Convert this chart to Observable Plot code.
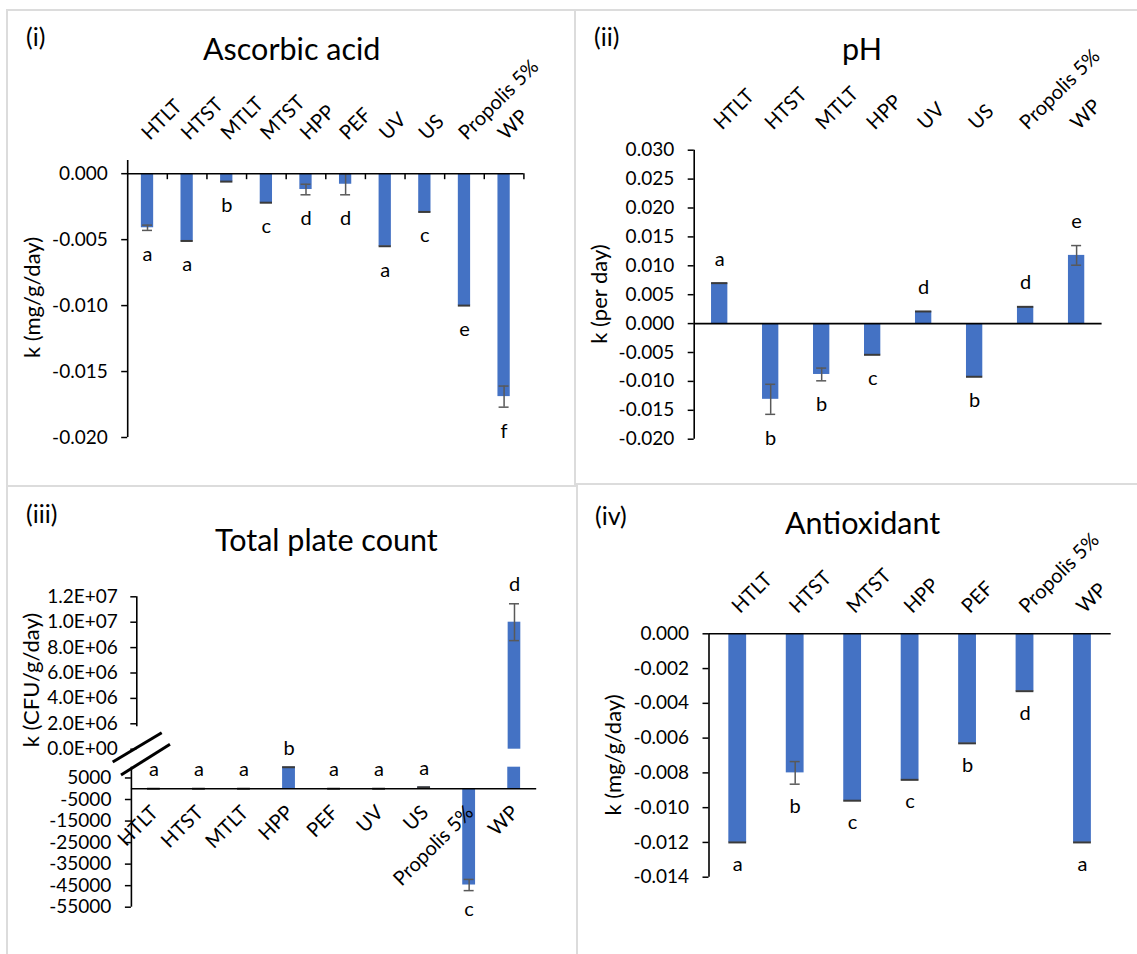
<!DOCTYPE html>
<html>
<head>
<meta charset="utf-8">
<script src="https://cdn.jsdelivr.net/npm/d3@7"></script>
<script src="https://cdn.jsdelivr.net/npm/@observablehq/plot@0.6"></script>
<style>
  body { margin: 0; background: #fff; }
  #root { position: relative; width: 1137px; height: 954px; overflow: hidden; font-family: Lato, sans-serif; color: #000; background: #fff; }
  .panel { position: absolute; border: 2px solid #dcdcdc; box-sizing: border-box; }
</style>
</head>
<body>
<div id="root"></div>
<script>
// ---------- DATA ----------
// (i) Ascorbic acid
const ascCats = ["HTLT", "HTST", "MTLT", "MTST", "HPP", "PEF", "UV", "US", "Propolis 5%", "WP"];
const ascK = [-0.0041, -0.0051, -0.0006, -0.0022, -0.0012, -0.0008, -0.0055, -0.0029, -0.0100, -0.0169];
const ascErr = [0.0002, 0, 0, 0, 0.0004, 0.0008, 0, 0, 0, 0.0008];
const ascLetters = ["a", "a", "b", "c", "d", "d", "a", "c", "e", "f"];
const ascTicks = [0, -0.005, -0.010, -0.015, -0.020];

// (ii) pH
const phCats = ["HTLT", "HTST", "MTLT", "HPP", "UV", "US", "Propolis 5%", "WP"];
const phK = [0.0070, -0.0131, -0.0088, -0.0054, 0.0021, -0.0092, 0.0029, 0.0118];
const phErr = [0, 0.0026, 0.0011, 0, 0, 0, 0, 0.0017];
const phLetters = ["a", "b", "b", "c", "d", "b", "d", "e"];
const phTicks = [0.030, 0.025, 0.020, 0.015, 0.010, 0.005, 0, -0.005, -0.010, -0.015, -0.020];

// (iii) Total plate count (broken axis)
const tpcCats = ["HTLT", "HTST", "MTLT", "HPP", "PEF", "UV", "US", "Propolis 5%", "WP"];
const tpcK = [0, 0, 0, 50000, 0, 0, 700, -44700, 10000000];
const tpcErr = [0, 0, 0, 0, 0, 0, 0, 2600, 1450000];
const tpcLetters = ["a", "a", "a", "b", "a", "a", "a", "c", "d"];
const tpcUpperTicks = [12e6, 10e6, 8e6, 6e6, 4e6, 2e6, 0];
const tpcLowerTicks = [5000, -5000, -15000, -25000, -35000, -45000, -55000];
const tpcUpperDomain = [0, 12e6];
const tpcLowerDomain = [-55000, 10000];
const tpcBreak = 1e6;

// (iv) Antioxidant
const aoxCats = ["HTLT", "HTST", "MTST", "HPP", "PEF", "Propolis 5%", "WP"];
const aoxK = [-0.0120, -0.0080, -0.0096, -0.0084, -0.0063, -0.0033, -0.0120];
const aoxErr = [0, 0.00065, 0, 0, 0, 0, 0];
const aoxLetters = ["a", "b", "c", "c", "b", "d", "a"];
const aoxTicks = [0, -0.002, -0.004, -0.006, -0.008, -0.010, -0.012, -0.014];

// ---------- HELPERS ----------
const BLUE = "#4472C4", ERR = "#595959", CAPZ = "#3a3a3a";
const FONT = "Lato, 'Open Sans', sans-serif";
const LBL = 20;   // category / letter font size
const root = document.getElementById("root");

function toRows(cats, k, err, letters) {
  return cats.map((c, i) => ({cat: c, k: k[i], err: err[i], letter: letters[i]}));
}
const fmt3 = d => d.toFixed(3);
const fmtE = d => {
  const [m, e] = d.toExponential(1).split("e");
  const n = +e;
  return m + "E" + (n < 0 ? "-" : "+") + String(Math.abs(n)).padStart(2, "0");
};
const baseStyle = {fontFamily: FONT, fontSize: "19px", color: "#000", background: "transparent", overflow: "visible"};

function mount(svg, left, top) {
  svg.style.position = "absolute";
  svg.style.left = left + "px";
  svg.style.top = top + "px";
  root.appendChild(svg);
}
function xScale(cats, barFrac) {
  const pi = 1 - barFrac;
  return {domain: cats, paddingInner: pi, paddingOuter: pi / 2, align: 0.5, round: false, axis: null};
}
function errMarks(rows, capInset) {
  const withErr = rows.filter(d => d.err > 0);
  const noErr = rows.filter(d => d.err === 0);
  return [
    Plot.ruleX(withErr, {x: "cat", y1: d => d.k - d.err, y2: d => d.k + d.err, stroke: ERR, strokeWidth: 1.5}),
    Plot.tickY(withErr, {x: "cat", y: d => d.k - d.err, stroke: ERR, strokeWidth: 1.5, insetLeft: capInset, insetRight: capInset}),
    Plot.tickY(withErr, {x: "cat", y: d => d.k + d.err, stroke: ERR, strokeWidth: 1.5, insetLeft: capInset, insetRight: capInset}),
    Plot.tickY(noErr, {x: "cat", y: "k", stroke: CAPZ, strokeWidth: 2})
  ];
}

function kPanel(o) {
  const rows = toRows(o.cats, o.k, o.err, o.letters);
  const n = o.cats.length;
  const step = (o.width - o.ml - o.mr) / n;
  const capInset = Math.max(0, (step * o.barFrac - 10) / 2);
  const up = rows.filter(d => d.k >= 0), down = rows.filter(d => d.k < 0);
  const marks = [
    Plot.barY(rows, {x: "cat", y: "k", fill: BLUE}),
    ...errMarks(rows, capInset),
    Plot.ruleY([0], {stroke: "#000", strokeWidth: 1.6}),
    Plot.ruleX([o.cats[0]], {x: d => d, dx: -step / 2, stroke: "#000", strokeWidth: 1.6}),
    Plot.axisY({ticks: o.ticks, tickFormat: o.fmt, tickSize: 6, tickPadding: 14, label: null, strokeWidth: 1.5, fontSize: 19}),
    Plot.text(up, {x: "cat", y: d => d.k + d.err, text: "letter", dy: -o.letterGap, fontSize: LBL}),
    Plot.text(down, {x: "cat", y: d => d.k - d.err, text: "letter", dy: o.letterGap, fontSize: LBL}),
    Plot.text(o.cats, {x: d => d, text: d => d, frameAnchor: "top", rotate: -45, textAnchor: "start", lineAnchor: "bottom", dx: 2.2, dy: -19.5, fontSize: LBL})
  ];
  if (o.boundaryTicks) {
    marks.push(Plot.ruleX(o.cats, {x: d => d, y1: () => 0, y2: () => 0, insetBottom: -6, dx: step / 2, stroke: "#000", strokeWidth: 1.5}));
  }
  return Plot.plot({
    width: o.width, height: o.height,
    marginLeft: o.ml, marginRight: o.mr, marginTop: o.mt, marginBottom: o.mb,
    style: baseStyle,
    x: xScale(o.cats, o.barFrac),
    y: {domain: o.yDomain},
    marks
  });
}

// ---------- PANEL FRAMES ----------
[[6, 9, 570, 478], [574, 9, 570, 476], [6, 485, 572, 480], [576, 483, 570, 480]].forEach(([l, t, w, h]) => {
  const d = document.createElement("div");
  d.className = "panel";
  Object.assign(d.style, {left: l + "px", top: t + "px", width: w + "px", height: h + "px"});
  root.appendChild(d);
});

// ---------- (i) Ascorbic acid ----------
mount(kPanel({
  cats: ascCats, k: ascK, err: ascErr, letters: ascLetters, ticks: ascTicks, fmt: fmt3,
  yDomain: [-0.020, 0.001], width: 564, height: 472, ml: 119.2, mr: 48.6, mt: 149, mb: 46,
  barFrac: 0.31, letterGap: 24, boundaryTicks: true
}), 8, 11);

// ---------- (ii) pH ----------
mount(kPanel({
  cats: phCats, k: phK, err: phErr, letters: phLetters, ticks: phTicks, fmt: fmt3,
  yDomain: [-0.020, 0.030], width: 561, height: 472, ml: 117.7, mr: 35.4, mt: 138.7, mb: 44.3,
  barFrac: 0.32, letterGap: 24
}), 576, 11);

// ---------- (iv) Antioxidant ----------
mount(kPanel({
  cats: aoxCats, k: aoxK, err: aoxErr, letters: aoxLetters, ticks: aoxTicks, fmt: fmt3,
  yDomain: [-0.014, 0], width: 559, height: 465, ml: 130.5, mr: 26.3, mt: 146.3, mb: 75.3,
  barFrac: 0.31, letterGap: 22
}), 578, 487);

// ---------- (iii) Total plate count: two stacked plots ----------
{
  const rows = toRows(tpcCats, tpcK, tpcErr, tpcLetters);
  const upperRows = rows.filter(d => d.k >= tpcBreak);
  const lowerRows = rows.filter(d => d.k < tpcBreak);
  const barFrac = 0.285;

  // upper part
  const uw = 564, uml = 128.3, umr = 35.8;
  const ustep = (uw - uml - umr) / tpcCats.length;
  const ucap = Math.max(0, (ustep * barFrac - 10) / 2);
  mount(Plot.plot({
    width: uw, height: 270, marginLeft: uml, marginRight: umr, marginTop: 109.3, marginBottom: 8.3,
    style: baseStyle,
    x: xScale(tpcCats, barFrac),
    y: {domain: tpcUpperDomain},
    marks: [
      Plot.barY(upperRows, {x: "cat", y: "k", fill: BLUE}),
      ...errMarks(upperRows, ucap),
      Plot.ruleX([tpcCats[0]], {x: d => d, y1: () => tpcUpperTicks[0], y2: () => tpcUpperTicks[tpcUpperTicks.length - 2], insetBottom: -3, dx: -ustep / 2, stroke: "#000", strokeWidth: 1.6}),
      Plot.axisY({ticks: tpcUpperTicks, tickFormat: fmtE, tickSize: 6, tickPadding: 13, label: null, strokeWidth: 1.5, fontSize: 19}),
      Plot.text(upperRows, {x: "cat", y: d => d.k + d.err, text: "letter", dy: -19, fontSize: LBL})
    ]
  }), 8, 487);

  // lower part
  const lw = 564, lml = 122.9, lmr = 35.8;
  const lstep = (lw - lml - lmr) / tpcCats.length;
  const lcap = Math.max(0, (lstep * barFrac - 10) / 2);
  const up = lowerRows.filter(d => d.k >= 0), down = lowerRows.filter(d => d.k < 0);
  mount(Plot.plot({
    width: lw, height: 222, marginLeft: lml, marginRight: lmr, marginTop: 36.7, marginBottom: 45.3,
    style: baseStyle,
    x: xScale(tpcCats, barFrac),
    y: {domain: tpcLowerDomain, clamp: true},
    marks: [
      Plot.barY(rows, {x: "cat", y: "k", fill: BLUE}),
      ...errMarks(lowerRows, lcap),
      Plot.ruleY([0], {stroke: "#000", strokeWidth: 1.6}),
      Plot.ruleX([tpcCats[0]], {x: d => d, dx: -lstep / 2, stroke: "#000", strokeWidth: 1.6}),
      Plot.axisY({ticks: tpcLowerTicks, tickFormat: d => String(d), tickSize: 6, tickPadding: 14, label: null, strokeWidth: 1.5, fontSize: 19}),
      Plot.text(up, {x: "cat", y: d => d.k + d.err, text: "letter", dy: -19, fontSize: LBL}),
      Plot.text(down, {x: "cat", y: d => d.k - d.err, text: "letter", dy: 19, fontSize: LBL}),
      Plot.text(tpcCats, {x: d => d, y: () => 0, text: d => d, rotate: -45, textAnchor: "end", lineAnchor: "top", dx: -4.5, dy: 15, fontSize: LBL})
    ]
  }), 8, 730);
}

// ---------- titles, panel tags, axis titles, axis-break symbol ----------
const ns = "http://www.w3.org/2000/svg";
const ov = document.createElementNS(ns, "svg");
ov.setAttribute("width", 1137); ov.setAttribute("height", 954);
Object.assign(ov.style, {position: "absolute", left: "0px", top: "0px", pointerEvents: "none", overflow: "visible"});
const panelTitles = [
  {t: "Ascorbic acid", x: 291.7, y: 60},
  {t: "pH", x: 862, y: 60},
  {t: "Total plate count", x: 326.3, y: 551},
  {t: "Antioxidant", x: 862.6, y: 534}
];
const panelTags = [
  {t: "(i)", x: 26, y: 46},
  {t: "(ii)", x: 594, y: 46},
  {t: "(iii)", x: 26, y: 522.5},
  {t: "(iv)", x: 595, y: 525}
];
const axisTitles = [
  {t: "k (mg/g/day)", x: 32.7, y: 297.5},
  {t: "k (per day)", x: 599, y: 294},
  {t: "k (CFU/g/day)", x: 31, y: 680},
  {t: "k (mg/g/day)", x: 613.4, y: 755}
];
function addText(d, size, anchor, rotate) {
  const e = document.createElementNS(ns, "text");
  if (rotate) {
    e.setAttribute("transform", `translate(${d.x},${d.y}) rotate(${rotate})`);
    e.setAttribute("dy", "0.35em");
  } else {
    e.setAttribute("x", d.x); e.setAttribute("y", d.y);
  }
  e.setAttribute("text-anchor", anchor);
  e.setAttribute("font-family", FONT);
  e.setAttribute("font-size", size);
  e.setAttribute("fill", "#000");
  e.textContent = d.t;
  ov.appendChild(e);
}
panelTitles.forEach(d => addText(d, 30.5, "middle"));
panelTags.forEach(d => addText(d, 25, "start"));
axisTitles.forEach(d => addText(d, 22, "middle", -90));
[[112.7, 762, 161.7, 732.7], [121, 775, 170, 744.3]].forEach(([x1, y1, x2, y2]) => {
  const l = document.createElementNS(ns, "line");
  l.setAttribute("x1", x1); l.setAttribute("y1", y1); l.setAttribute("x2", x2); l.setAttribute("y2", y2);
  l.setAttribute("stroke", "#000"); l.setAttribute("stroke-width", 3);
  ov.appendChild(l);
});
root.appendChild(ov);
</script>
</body>
</html>
